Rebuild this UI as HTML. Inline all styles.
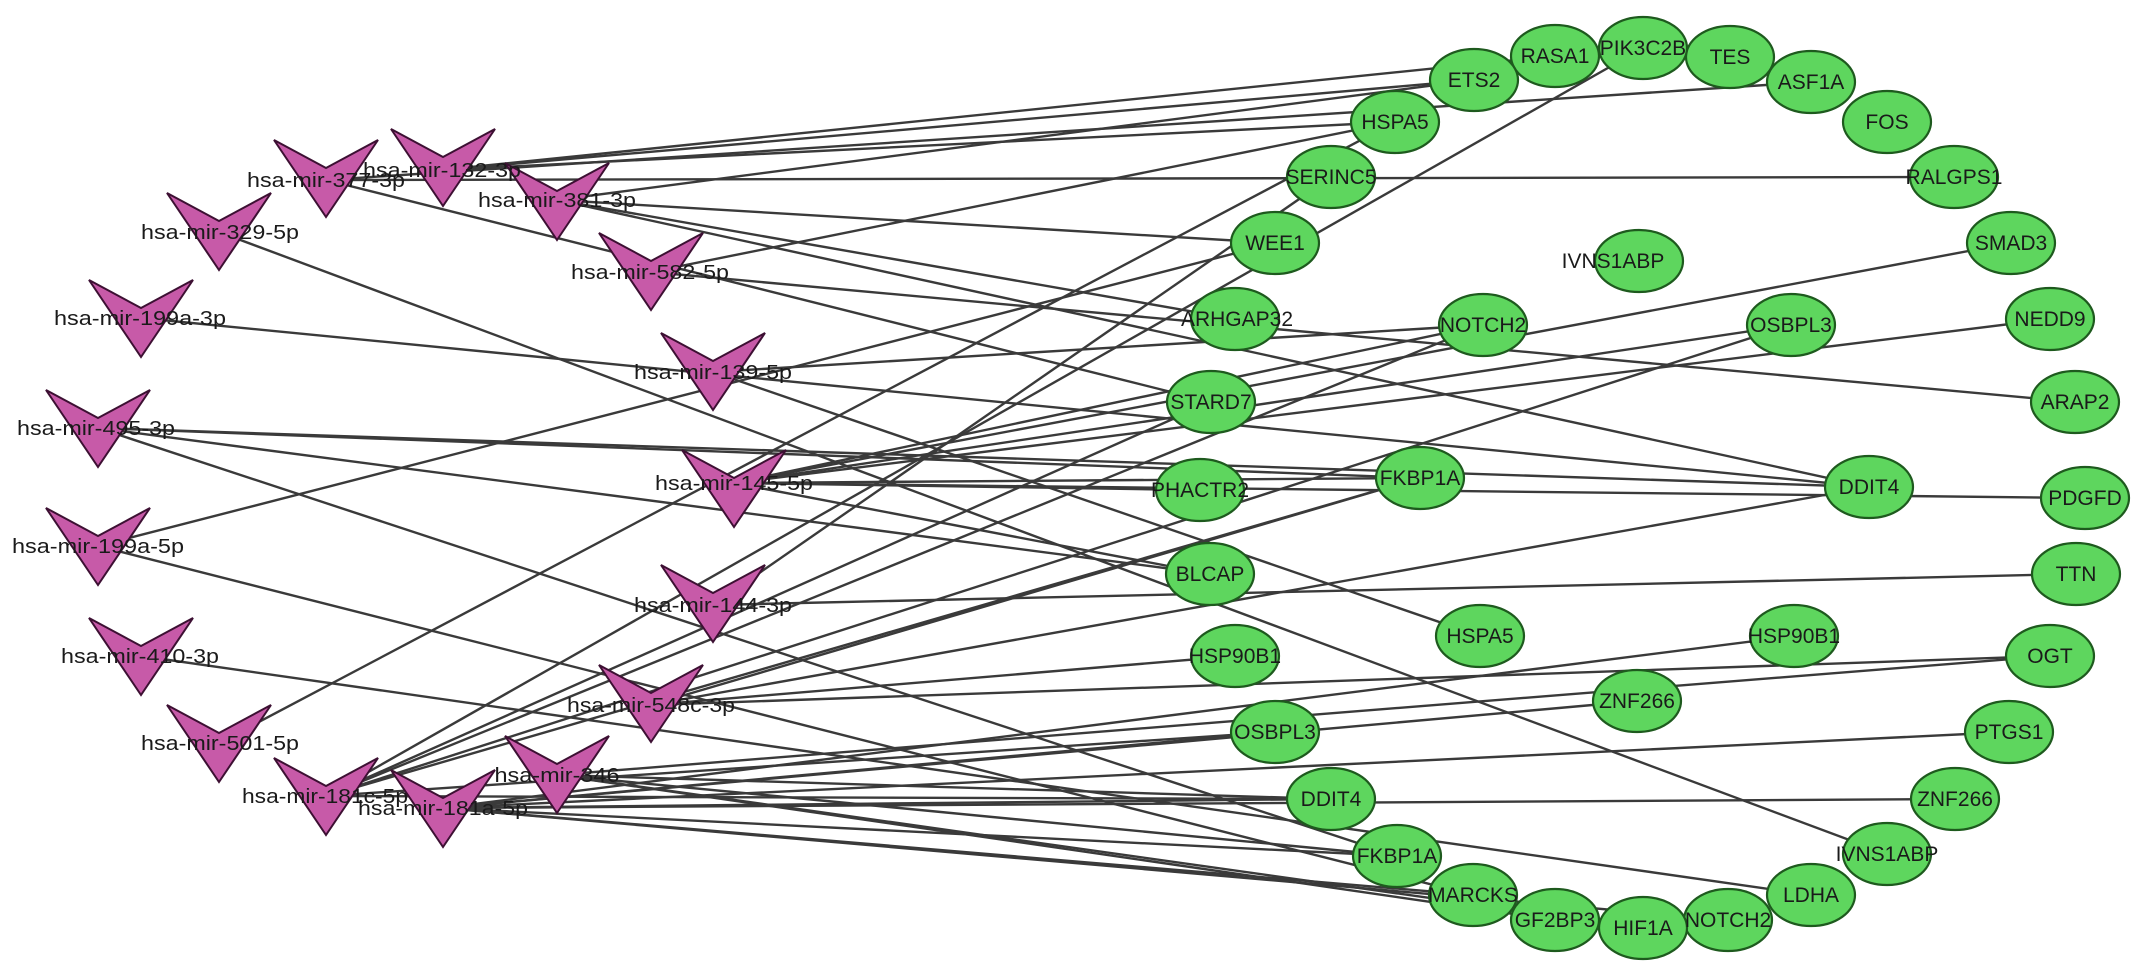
<!DOCTYPE html>
<html><head><meta charset="utf-8"><style>
html,body{margin:0;padding:0;background:#fff;}
svg{display:block;}
text{font-family:"Liberation Sans",Arial,sans-serif;fill:#1a1a1a;}
</style></head><body>
<svg width="2150" height="976" viewBox="0 0 2150 976" xmlns="http://www.w3.org/2000/svg">
<g stroke="#3a3a3a" stroke-width="2.4" fill="none">
<line x1="442" y1="170" x2="1555" y2="56"/>
<line x1="442" y1="170" x2="1395" y2="122"/>
<line x1="442" y1="170" x2="1474" y2="80"/>
<line x1="326" y1="180" x2="1811" y2="82"/>
<line x1="326" y1="180" x2="1954" y2="177"/>
<line x1="326" y1="180" x2="1211" y2="402"/>
<line x1="557" y1="200" x2="1275" y2="243"/>
<line x1="557" y1="200" x2="1235" y2="319"/>
<line x1="557" y1="200" x2="1869" y2="487"/>
<line x1="557" y1="200" x2="1474" y2="80"/>
<line x1="219" y1="232" x2="1887" y2="854"/>
<line x1="141" y1="318" x2="1869" y2="487"/>
<line x1="651" y1="272" x2="2075" y2="402"/>
<line x1="651" y1="272" x2="1395" y2="122"/>
<line x1="713" y1="372" x2="1483" y2="325"/>
<line x1="713" y1="372" x2="1480" y2="636"/>
<line x1="98" y1="428" x2="1869" y2="487"/>
<line x1="98" y1="428" x2="1420" y2="478"/>
<line x1="98" y1="428" x2="1397" y2="856"/>
<line x1="98" y1="428" x2="1210" y2="574"/>
<line x1="734" y1="483" x2="1200" y2="490"/>
<line x1="734" y1="483" x2="2085" y2="498"/>
<line x1="734" y1="483" x2="1420" y2="478"/>
<line x1="734" y1="483" x2="1483" y2="325"/>
<line x1="734" y1="483" x2="2050" y2="319"/>
<line x1="734" y1="483" x2="1791" y2="325"/>
<line x1="734" y1="483" x2="2011" y2="243"/>
<line x1="734" y1="483" x2="1210" y2="574"/>
<line x1="98" y1="546" x2="1275" y2="243"/>
<line x1="98" y1="546" x2="1473" y2="895"/>
<line x1="713" y1="605" x2="2076" y2="574"/>
<line x1="713" y1="605" x2="1331" y2="177"/>
<line x1="141" y1="656" x2="1811" y2="895"/>
<line x1="651" y1="705" x2="1235" y2="656"/>
<line x1="651" y1="705" x2="2050" y2="656"/>
<line x1="651" y1="705" x2="1420" y2="478"/>
<line x1="651" y1="705" x2="1869" y2="487"/>
<line x1="219" y1="743" x2="1395" y2="122"/>
<line x1="326" y1="796" x2="1643" y2="48"/>
<line x1="326" y1="796" x2="1483" y2="325"/>
<line x1="326" y1="796" x2="1211" y2="402"/>
<line x1="326" y1="796" x2="1420" y2="478"/>
<line x1="326" y1="796" x2="1791" y2="325"/>
<line x1="326" y1="796" x2="1275" y2="732"/>
<line x1="326" y1="796" x2="1331" y2="799"/>
<line x1="443" y1="808" x2="1331" y2="799"/>
<line x1="443" y1="808" x2="1955" y2="799"/>
<line x1="443" y1="808" x2="2009" y2="732"/>
<line x1="443" y1="808" x2="1397" y2="856"/>
<line x1="443" y1="808" x2="1473" y2="895"/>
<line x1="443" y1="808" x2="1728" y2="920"/>
<line x1="443" y1="808" x2="1794" y2="636"/>
<line x1="443" y1="808" x2="1637" y2="701"/>
<line x1="443" y1="808" x2="1275" y2="732"/>
<line x1="557" y1="775" x2="2050" y2="656"/>
<line x1="557" y1="775" x2="1331" y2="799"/>
<line x1="557" y1="775" x2="1397" y2="856"/>
<line x1="557" y1="775" x2="1643" y2="928"/>
<line x1="557" y1="775" x2="1555" y2="920"/>
</g>
<g fill="#c75aa8" stroke="#3d1033" stroke-width="2">
<path d="M274 140 L326 168 L378 140 L326 217 Z"/>
<path d="M391 129 L443 157 L495 129 L443 206 Z"/>
<path d="M505 163 L557 191 L609 163 L557 240 Z"/>
<path d="M167 193 L219 221 L271 193 L219 270 Z"/>
<path d="M599 233 L651 261 L703 233 L651 310 Z"/>
<path d="M89 280 L141 308 L193 280 L141 357 Z"/>
<path d="M661 333 L713 361 L765 333 L713 410 Z"/>
<path d="M46 390 L98 418 L150 390 L98 467 Z"/>
<path d="M682 450 L734 478 L786 450 L734 527 Z"/>
<path d="M46 508 L98 536 L150 508 L98 585 Z"/>
<path d="M661 565 L713 593 L765 565 L713 642 Z"/>
<path d="M89 618 L141 646 L193 618 L141 695 Z"/>
<path d="M599 665 L651 693 L703 665 L651 742 Z"/>
<path d="M167 705 L219 733 L271 705 L219 782 Z"/>
<path d="M274 758 L326 786 L378 758 L326 835 Z"/>
<path d="M505 736 L557 764 L609 736 L557 813 Z"/>
<path d="M391 770 L443 798 L495 770 L443 847 Z"/>
</g>
<g font-size="20" text-anchor="middle">
<text x="326" y="187" textLength="158" lengthAdjust="spacingAndGlyphs">hsa-mir-377-3p</text>
<text x="442" y="177" textLength="158" lengthAdjust="spacingAndGlyphs">hsa-mir-132-3p</text>
<text x="557" y="207" textLength="158" lengthAdjust="spacingAndGlyphs">hsa-mir-381-3p</text>
<text x="220" y="239" textLength="158" lengthAdjust="spacingAndGlyphs">hsa-mir-329-5p</text>
<text x="650" y="279" textLength="158" lengthAdjust="spacingAndGlyphs">hsa-mir-582-5p</text>
<text x="140" y="325" textLength="172" lengthAdjust="spacingAndGlyphs">hsa-mir-199a-3p</text>
<text x="713" y="379" textLength="158" lengthAdjust="spacingAndGlyphs">hsa-mir-139-5p</text>
<text x="96" y="435" textLength="158" lengthAdjust="spacingAndGlyphs">hsa-mir-495-3p</text>
<text x="734" y="490" textLength="158" lengthAdjust="spacingAndGlyphs">hsa-mir-145-5p</text>
<text x="98" y="553" textLength="172" lengthAdjust="spacingAndGlyphs">hsa-mir-199a-5p</text>
<text x="713" y="612" textLength="158" lengthAdjust="spacingAndGlyphs">hsa-mir-144-3p</text>
<text x="140" y="663" textLength="158" lengthAdjust="spacingAndGlyphs">hsa-mir-410-3p</text>
<text x="651" y="712" textLength="168" lengthAdjust="spacingAndGlyphs">hsa-mir-548c-3p</text>
<text x="220" y="750" textLength="158" lengthAdjust="spacingAndGlyphs">hsa-mir-501-5p</text>
<text x="325" y="803" textLength="166" lengthAdjust="spacingAndGlyphs">hsa-mir-181c-5p</text>
<text x="557" y="782" textLength="125" lengthAdjust="spacingAndGlyphs">hsa-mir-346</text>
<text x="443" y="815" textLength="170" lengthAdjust="spacingAndGlyphs">hsa-mir-181a-5p</text>
</g>
<g fill="#5ed65e" stroke="#1e5a1e" stroke-width="2.2">
<ellipse cx="1555" cy="56" rx="44" ry="31"/>
<ellipse cx="1730" cy="57" rx="44" ry="31"/>
<ellipse cx="1643" cy="48" rx="44" ry="31"/>
<ellipse cx="1474" cy="80" rx="44" ry="31"/>
<ellipse cx="1811" cy="82" rx="44" ry="31"/>
<ellipse cx="1395" cy="122" rx="44" ry="31"/>
<ellipse cx="1887" cy="122" rx="44" ry="31"/>
<ellipse cx="1331" cy="177" rx="44" ry="31"/>
<ellipse cx="1954" cy="177" rx="44" ry="31"/>
<ellipse cx="1275" cy="243" rx="44" ry="31"/>
<ellipse cx="2011" cy="243" rx="44" ry="31"/>
<ellipse cx="1639" cy="261" rx="44" ry="31"/>
<ellipse cx="1235" cy="319" rx="44" ry="31"/>
<ellipse cx="1483" cy="325" rx="44" ry="31"/>
<ellipse cx="1791" cy="325" rx="44" ry="31"/>
<ellipse cx="2050" cy="319" rx="44" ry="31"/>
<ellipse cx="1211" cy="402" rx="44" ry="31"/>
<ellipse cx="2075" cy="402" rx="44" ry="31"/>
<ellipse cx="1200" cy="490" rx="44" ry="31"/>
<ellipse cx="1420" cy="478" rx="44" ry="31"/>
<ellipse cx="1869" cy="487" rx="44" ry="31"/>
<ellipse cx="2085" cy="498" rx="44" ry="31"/>
<ellipse cx="1210" cy="574" rx="44" ry="31"/>
<ellipse cx="2076" cy="574" rx="44" ry="31"/>
<ellipse cx="1480" cy="636" rx="44" ry="31"/>
<ellipse cx="1235" cy="656" rx="44" ry="31"/>
<ellipse cx="1794" cy="636" rx="44" ry="31"/>
<ellipse cx="2050" cy="656" rx="44" ry="31"/>
<ellipse cx="1637" cy="701" rx="44" ry="31"/>
<ellipse cx="1275" cy="732" rx="44" ry="31"/>
<ellipse cx="2009" cy="732" rx="44" ry="31"/>
<ellipse cx="1331" cy="799" rx="44" ry="31"/>
<ellipse cx="1955" cy="799" rx="44" ry="31"/>
<ellipse cx="1397" cy="856" rx="44" ry="31"/>
<ellipse cx="1887" cy="854" rx="44" ry="31"/>
<ellipse cx="1473" cy="895" rx="44" ry="31"/>
<ellipse cx="1811" cy="895" rx="44" ry="31"/>
<ellipse cx="1555" cy="920" rx="44" ry="31"/>
<ellipse cx="1728" cy="920" rx="44" ry="31"/>
<ellipse cx="1643" cy="928" rx="44" ry="31"/>
</g>
<g font-size="21" text-anchor="middle">
<text x="1555" y="63">RASA1</text>
<text x="1730" y="64">TES</text>
<text x="1643" y="55">PIK3C2B</text>
<text x="1474" y="87">ETS2</text>
<text x="1811" y="89">ASF1A</text>
<text x="1395" y="129">HSPA5</text>
<text x="1887" y="129">FOS</text>
<text x="1331" y="184">SERINC5</text>
<text x="1954" y="184">RALGPS1</text>
<text x="1275" y="250">WEE1</text>
<text x="2011" y="250">SMAD3</text>
<text x="1613" y="268">IVNS1ABP</text>
<text x="1237" y="326">ARHGAP32</text>
<text x="1483" y="332">NOTCH2</text>
<text x="1791" y="332">OSBPL3</text>
<text x="2050" y="326">NEDD9</text>
<text x="1211" y="409">STARD7</text>
<text x="2075" y="409">ARAP2</text>
<text x="1200" y="497">PHACTR2</text>
<text x="1420" y="485">FKBP1A</text>
<text x="1869" y="494">DDIT4</text>
<text x="2085" y="505">PDGFD</text>
<text x="1210" y="581">BLCAP</text>
<text x="2076" y="581">TTN</text>
<text x="1480" y="643">HSPA5</text>
<text x="1235" y="663">HSP90B1</text>
<text x="1794" y="643">HSP90B1</text>
<text x="2050" y="663">OGT</text>
<text x="1637" y="708">ZNF266</text>
<text x="1275" y="739">OSBPL3</text>
<text x="2009" y="739">PTGS1</text>
<text x="1331" y="806">DDIT4</text>
<text x="1955" y="806">ZNF266</text>
<text x="1397" y="863">FKBP1A</text>
<text x="1887" y="861">IVNS1ABP</text>
<text x="1473" y="902">MARCKS</text>
<text x="1811" y="902">LDHA</text>
<text x="1555" y="927">GF2BP3</text>
<text x="1728" y="927">NOTCH2</text>
<text x="1643" y="935">HIF1A</text>
</g>
</svg>
</body></html>
